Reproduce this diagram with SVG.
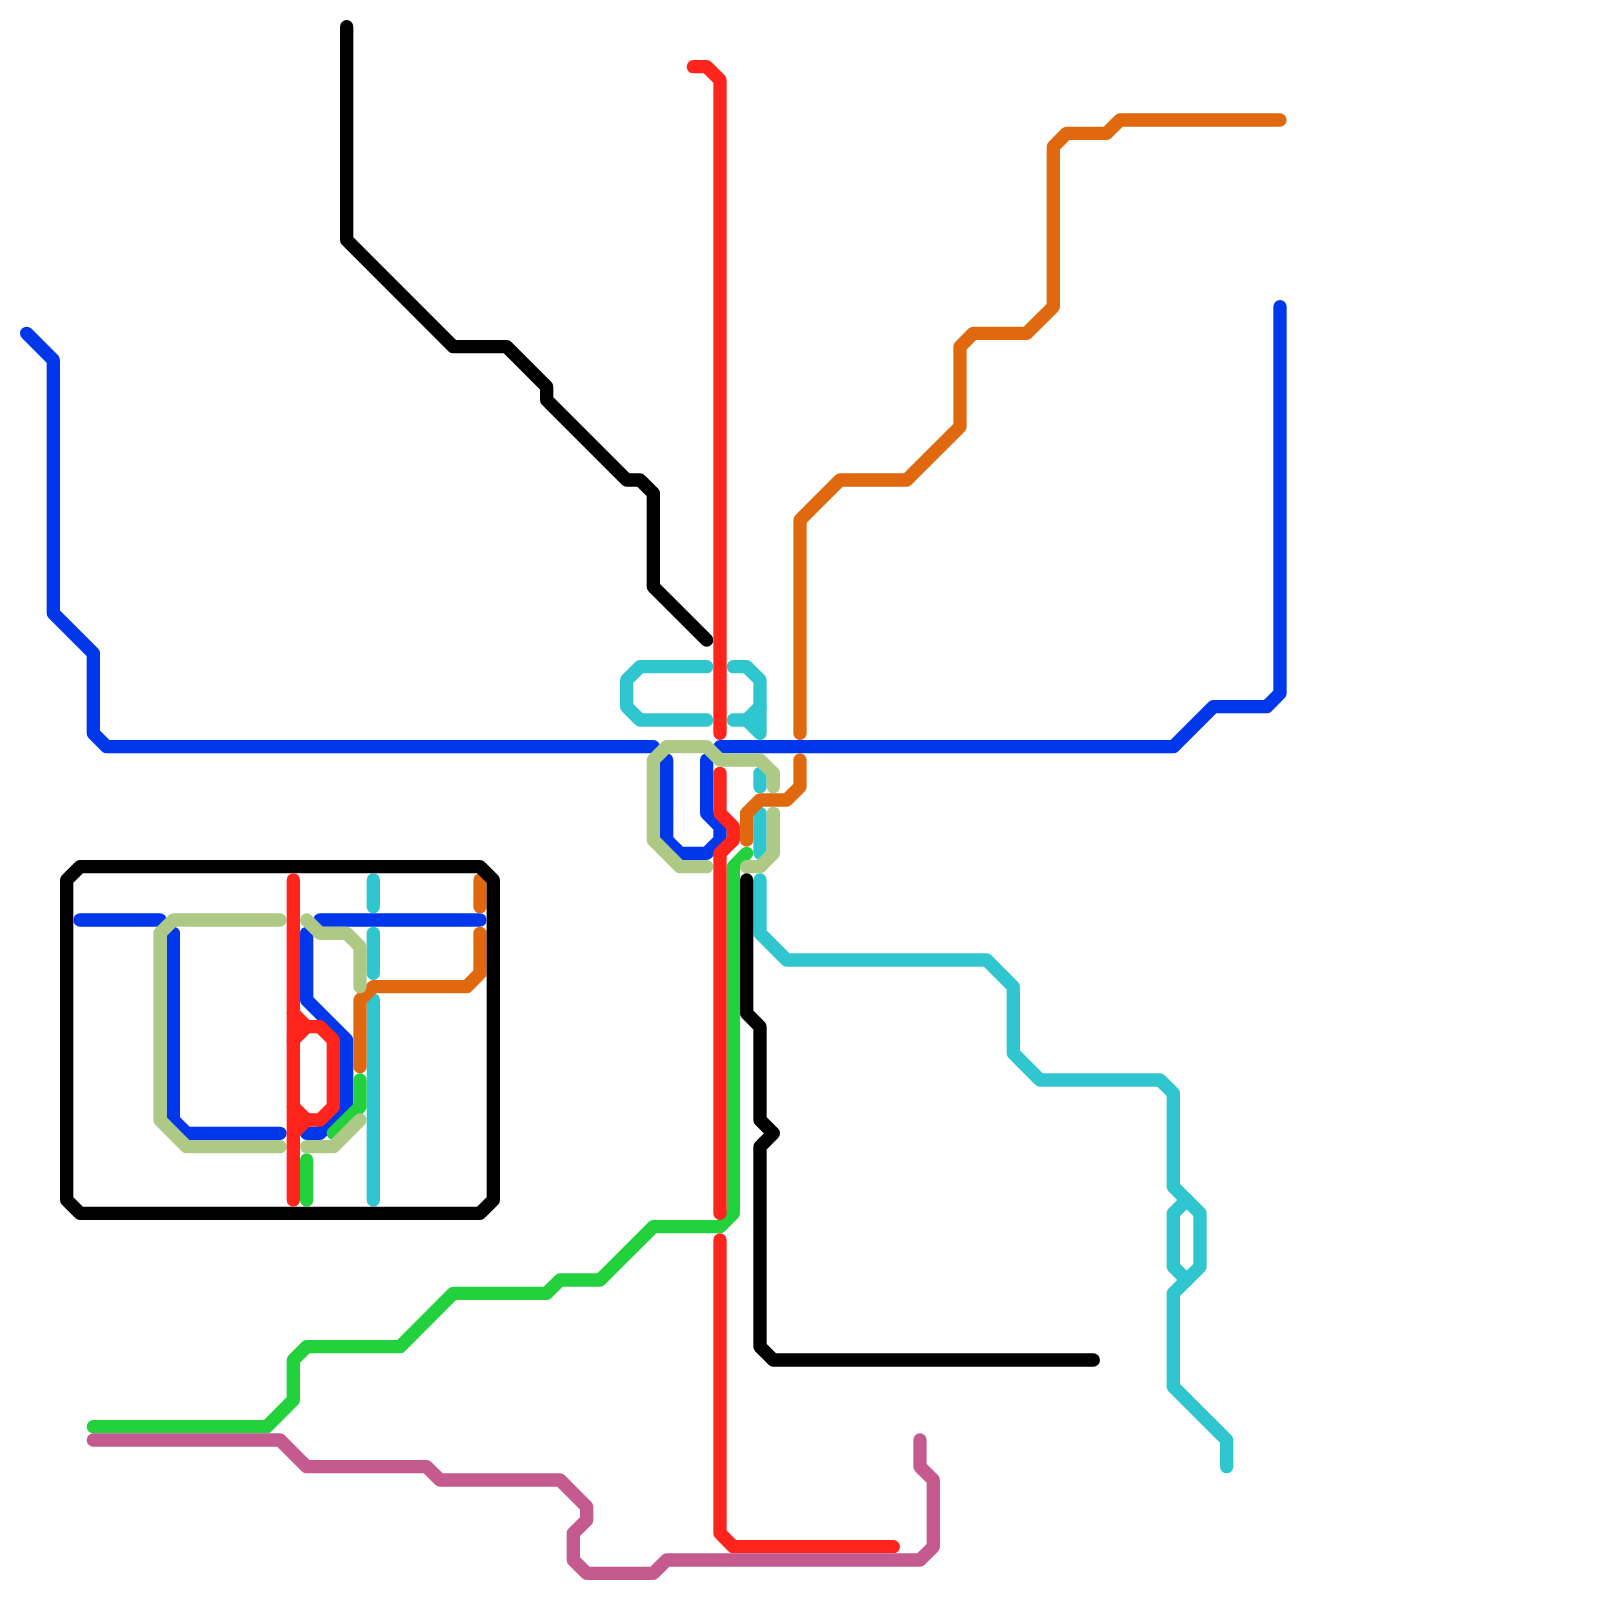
<svg xmlns="http://www.w3.org/2000/svg" width="1600" height="1600" viewBox="0 0 1600 1600">
<style>
polyline,polygon{fill:none;stroke-width:1;stroke-linecap:round;stroke-linejoin:round}
.teal *{stroke:#30c6cf}
.blue *{stroke:#0037ea}
.orange *{stroke:#e0680e}
.lime *{stroke:#22d13c}
.sage *{stroke:#adc985}
.black *{stroke:#000}
.red *{stroke:#ff241c}
.pink *{stroke:#c45a8e}
</style>
<rect width="1600" height="1600" fill="#fff"/>
<g id="connectors" transform="scale(13.33333)">
<g id="line-teal" class="teal">
<polyline points="53,50 48,50 47,51 47,53 48,54 53,54"/>
<polyline points="55,50 56,50 57,51 57,55 56,54 55,54"/>
<polyline points="56,54 57,53"/>
<polyline points="57,58 57,59"/>
<polyline points="57,61 57,64"/>
<polyline points="57,66 57,70 59,72 74,72 76,74 76,79 78,81 87,81 88,82 88,89 90,91 90,95 88,97 88,104 92,108 92,110"/>
<polyline points="89,90 88,91 88,95 89,96"/>
<polyline points="28,66 28,68"/>
<polyline points="28,70 28,73"/>
<polyline points="28,75 28,90"/>
</g>
<g id="line-blue" class="blue">
<polyline points="2,25 4,27 4,46 7,49 7,55 8,56 49,56"/>
<polyline points="54,56 88,56 91,53 95,53 96,52 96,23"/>
<polyline points="50,57 50,63 51,64 53,64 54,63 54,62 53,61 53,57"/>
<polyline points="6,69 12,69"/>
<polyline points="13,70 13,84 14,85 21,85"/>
<polyline points="23,70 23,75 26,78 26,83 24,85 23,85"/>
<polyline points="24,69 36,69"/>
</g>
<g id="line-orange" class="orange">
<polyline points="60,55 60,39 63,36 68,36 72,32 72,26 73,25 77,25 79,23 79,11 80,10 83,10 84,9 96,9"/>
<polyline points="60,57 60,59 59,60 57,60 56,61 56,63"/>
<polyline points="36,66 36,68"/>
<polyline points="36,70 36,73 35,74 28,74 27,75 27,80"/>
</g>
<g id="line-lime" class="lime">
<polyline points="56,64 55,65 55,91 54,92 49,92 45,96 42,96 41,97 34,97 30,101 23,101 22,102 22,105 20,107 7,107"/>
<polyline points="27,81 27,83 25,85"/>
<polyline points="23,87 23,90"/>
</g>
<g id="line-sage" class="sage">
<polyline points="53,65 51,65 49,63 49,57 50,56 53,56 54,57 57,57 58,58 58,59"/>
<polyline points="58,61 58,64 57,65 56,65"/>
<polyline points="21,69 13,69 12,70 12,84 14,86 21,86"/>
<polyline points="23,69 24,70 26,70 27,71 27,74"/>
<polyline points="23,86 25,86 27,84"/>
</g>
<g id="line-black" class="black">
<polyline points="26,2 26,18 34,26 38,26 41,29 41,30 47,36 48,36 49,37 49,44 53,48"/>
<polyline points="56,66 56,76 57,77 57,84 58,85 57,86 57,101 58,102 82,102"/>
<polygon points="5,66 6,65 36,65 37,66 37,90 36,91 6,91 5,90"/>
</g>
<g id="line-red" class="red">
<polyline points="52,5 53,5 54,6 54,55"/>
<polyline points="54,58 54,61 55,62 55,63 54,64 54,91"/>
<polyline points="54,93 54,115 55,116 67,116"/>
<polyline points="22,66 22,90"/>
<polyline points="22,76 23,77 24,77 25,78 25,83 24,84 23,84 22,85"/>
<polyline points="22,78 23,77"/>
<polyline points="22,83 23,84"/>
</g>
<g id="line-pink" class="pink">
<polyline points="7,108 21,108 23,110 32,110 33,111 42,111 44,113 44,114 43,115 43,117 44,118 49,118 50,117 69,117 70,116 70,111 69,110 69,108"/>
</g>
</g>
</svg>
